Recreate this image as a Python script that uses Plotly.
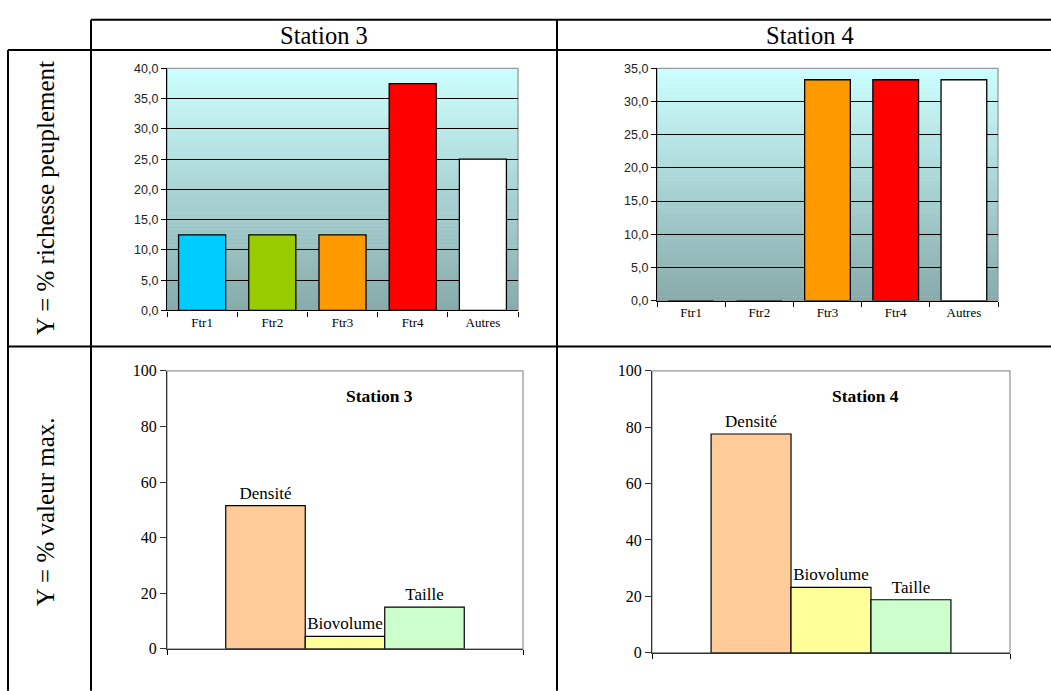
import plotly.graph_objects as go

W, H = 1051, 691

# ---------------- data ----------------
ftr_categories = ["Ftr1", "Ftr2", "Ftr3", "Ftr4", "Autres"]
ftr_colors = ["#00ccff", "#99cc00", "#ff9900", "#ff0000", "#ffffff"]
richesse_station3 = [12.5, 12.5, 12.5, 37.5, 25.0]
richesse_station4 = [0.0, 0.0, 33.3, 33.3, 33.3]

metric_names = ["Densité", "Biovolume", "Taille"]
metric_colors = ["#ffcc99", "#ffff99", "#ccffcc"]
valeur_station3 = [51.5, 4.5, 15.0]
valeur_station4 = [77.6, 23.2, 18.8]

stations = ["Station 3", "Station 4"]
row_labels = ["Y = % richesse peuplement", "Y = % valeur max."]

SERIF = "Liberation Serif, Times New Roman, serif"
SANS = "Liberation Sans, Arial, sans-serif"


def px(x):
    return x / W


def py(y):
    return 1 - y / H


fig = go.Figure()

# ---------- top charts (richesse) ----------
for i, vals in enumerate([richesse_station3, richesse_station4]):
    xa = "x" if i == 0 else "x2"
    ya = "y" if i == 0 else "y2"
    fig.add_trace(go.Bar(
        x=ftr_categories, y=vals, xaxis=xa, yaxis=ya,
        marker=dict(color=ftr_colors, line=dict(color="black", width=1.3)),
        showlegend=False, hoverinfo="x+y",
    ))

# ---------- bottom charts (valeur max) ----------
for i, vals in enumerate([valeur_station3, valeur_station4]):
    xa = "x3" if i == 0 else "x4"
    ya = "y3" if i == 0 else "y4"
    for name, v, c in zip(metric_names, vals, metric_colors):
        fig.add_trace(go.Bar(
            x=[stations[i]], y=[v], name=name, xaxis=xa, yaxis=ya,
            marker=dict(color=c, line=dict(color="black", width=1.2)),
            text=[name], textposition="outside", cliponaxis=False,
            textfont=dict(family=SERIF, size=17, color="black"),
            showlegend=False,
        ))

# plot areas in pixels
areas = {
    "1": (167, 518, 62, 310),
    "2": (657, 998, 62, 300),
    "3": (167, 523, 372, 657),
    "4": (652, 1010, 372, 661),
}

layout = dict(
    width=W, height=H, margin=dict(l=0, r=0, t=0, b=0),
    paper_bgcolor="white", plot_bgcolor="rgba(0,0,0,0)",
    separators=", ", barmode="group", bargap=0.33, bargroupgap=0,
    showlegend=False,
)

for k, (x0, x1, y0, y1) in areas.items():
    sfx = "" if k == "1" else k
    top = k in ("1", "2")
    layout["xaxis" + sfx] = dict(
        domain=[px(x0), px(x1)], anchor="y" + sfx,
        type="category", showgrid=False, showline=True,
        linecolor="black" if top else "#333333", linewidth=1.3,
        ticks="outside", tickson="boundaries", ticklen=5, tickcolor="black",
        showticklabels=top,
        tickfont=dict(family=SERIF, size=13, color="black"),
        fixedrange=True,
    )
    if top:
        rng = [0, 40] if k == "1" else [0, 35]
        layout["yaxis" + sfx] = dict(
            domain=[py(y1), py(y0)], anchor="x" + sfx,
            range=rng, dtick=5, tickformat=".1f",
            showgrid=True, gridcolor="black", gridwidth=1,
            showline=True, linecolor="black", linewidth=1.3,
            ticks="outside", ticklen=5, tickcolor="black",
            tickfont=dict(family=SANS, size=12.5, color="#222222"),
            zeroline=False, fixedrange=True,
        )
    else:
        layout["yaxis" + sfx] = dict(
            domain=[py(y1), py(y0)], anchor="x" + sfx,
            range=[0, 100], dtick=20,
            showgrid=False, showline=True, linecolor="#333333", linewidth=1.3,
            ticks="outside", ticklen=6, tickcolor="#333333",
            tickfont=dict(family=SERIF, size=16, color="black"),
            zeroline=False, fixedrange=True,
        )

shapes = []


def lerp(c0, c1, t):
    return tuple(round(a + (b - a) * t) for a, b in zip(c0, c1))


# gradient backgrounds for top charts
bottom_col = (0x88, 0xaa, 0xaa)
top_col = (0xcc, 0xff, 0xff)
N = 60
for sfx in ("", "2"):
    for j in range(N):
        t = (j + 0.5) / N
        r, g, b = lerp(bottom_col, top_col, t)
        shapes.append(dict(
            type="rect", xref="x%s domain" % sfx, yref="y%s domain" % sfx,
            x0=0, x1=1, y0=j / N, y1=(j + 1) / N + 0.002,
            fillcolor="rgb(%d,%d,%d)" % (r, g, b), line=dict(width=0),
            layer="below",
        ))

# gray plot-area borders
for sfx in ("", "2", "3", "4"):
    shapes.append(dict(
        type="rect", xref="x%s domain" % sfx, yref="y%s domain" % sfx,
        x0=0, x1=1, y0=0, y1=1, line=dict(color="#999999", width=1.3),
        fillcolor="rgba(0,0,0,0)", layer="below",
    ))

# table lines (pixels)
table_lines = [
    (91, 12, 1060, 12),
    (8, 43, 1060, 43),
    (8, 347, 1060, 347),
    (8, 43, 8, 700),
    (91, 12, 91, 700),
    (557, 12, 557, 700),
]
for (xa0, ya0, xa1, ya1) in table_lines:
    shapes.append(dict(
        type="line", xref="paper", yref="paper",
        x0=px(xa0), y0=py(ya0), x1=px(xa1), y1=py(ya1),
        line=dict(color="black", width=2),
    ))

layout["shapes"] = shapes

annotations = [
    dict(text=stations[0], x=px(324), y=py(28), xref="paper", yref="paper",
         showarrow=False, font=dict(family=SERIF, size=24.5, color="black"),
         xanchor="center", yanchor="middle"),
    dict(text=stations[1], x=px(810), y=py(28), xref="paper", yref="paper",
         showarrow=False, font=dict(family=SERIF, size=24.5, color="black"),
         xanchor="center", yanchor="middle"),
    dict(text=row_labels[0], x=px(45), y=py(195), xref="paper", yref="paper",
         showarrow=False, textangle=-90,
         font=dict(family=SERIF, size=25, color="black"),
         xanchor="center", yanchor="middle"),
    dict(text=row_labels[1], x=px(45), y=py(517), xref="paper", yref="paper",
         showarrow=False, textangle=-90,
         font=dict(family=SERIF, size=25, color="black"),
         xanchor="center", yanchor="middle"),
    dict(text="<b>" + stations[0] + "</b>", x=0.598, y=0.909,
         xref="x3 domain", yref="y3 domain", showarrow=False,
         font=dict(family=SERIF, size=17.5, color="black"),
         xanchor="center", yanchor="middle"),
    dict(text="<b>" + stations[1] + "</b>", x=0.595, y=0.91,
         xref="x4 domain", yref="y4 domain", showarrow=False,
         font=dict(family=SERIF, size=17.5, color="black"),
         xanchor="center", yanchor="middle"),
]
layout["annotations"] = annotations

fig.update_layout(**layout)
fig.write_html("out.html")
